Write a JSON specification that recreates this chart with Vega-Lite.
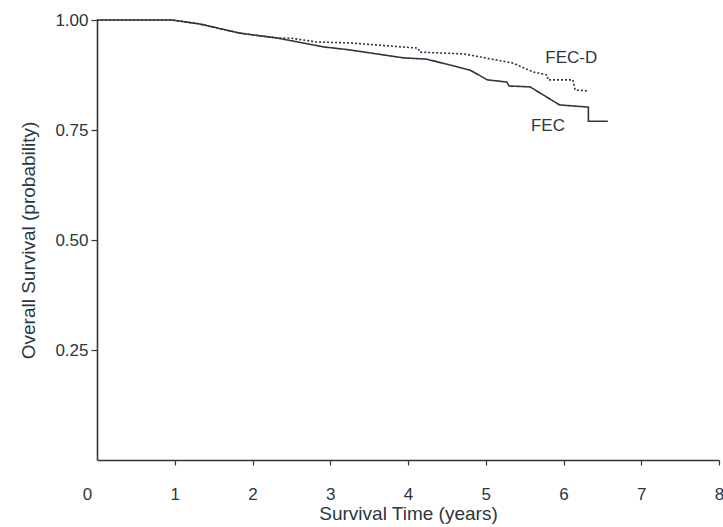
{
  "$schema": "https://vega.github.io/schema/vega-lite/v6.json",
  "autosize": {"type": "none"},
  "padding": {"left": 97, "top": 20, "right": 4, "bottom": 67},
  "width": 622,
  "height": 440,
  "background": "white",
  "config": {
    "view": {"stroke": null},
    "font": "Liberation Sans",
    "axis": {
      "domainColor": "#2b3640",
      "domainWidth": 1.6,
      "tickColor": "#2b3640",
      "tickWidth": 1.2,
      "labelColor": "#2b3640",
      "titleColor": "#2b3640",
      "labelFont": "Liberation Sans",
      "titleFont": "Liberation Sans",
      "labelFontSize": 17,
      "titleFontSize": 19,
      "titleFontWeight": "normal",
      "grid": false
    }
  },
  "datasets": {
    "curves": [
      {"arm": "FEC", "i": 0, "t": 0, "s": 1.0},
      {"arm": "FEC", "i": 1, "t": 0.965, "s": 1.0},
      {"arm": "FEC", "i": 2, "t": 1.32, "s": 0.991},
      {"arm": "FEC", "i": 3, "t": 1.84, "s": 0.970},
      {"arm": "FEC", "i": 4, "t": 2.32, "s": 0.959},
      {"arm": "FEC", "i": 5, "t": 2.91, "s": 0.939},
      {"arm": "FEC", "i": 6, "t": 3.25, "s": 0.932},
      {"arm": "FEC", "i": 7, "t": 3.94, "s": 0.914},
      {"arm": "FEC", "i": 8, "t": 4.24, "s": 0.911},
      {"arm": "FEC", "i": 9, "t": 4.80, "s": 0.886},
      {"arm": "FEC", "i": 10, "t": 5.02, "s": 0.864},
      {"arm": "FEC", "i": 11, "t": 5.27, "s": 0.859},
      {"arm": "FEC", "i": 12, "t": 5.30, "s": 0.850},
      {"arm": "FEC", "i": 13, "t": 5.57, "s": 0.848},
      {"arm": "FEC", "i": 14, "t": 5.95, "s": 0.807},
      {"arm": "FEC", "i": 15, "t": 6.32, "s": 0.802},
      {"arm": "FEC", "i": 16, "t": 6.32, "s": 0.770},
      {"arm": "FEC", "i": 17, "t": 6.57, "s": 0.770},
      {"arm": "FEC-D", "i": 0, "t": 0, "s": 1.0},
      {"arm": "FEC-D", "i": 1, "t": 0.965, "s": 1.0},
      {"arm": "FEC-D", "i": 2, "t": 1.32, "s": 0.991},
      {"arm": "FEC-D", "i": 3, "t": 1.84, "s": 0.970},
      {"arm": "FEC-D", "i": 4, "t": 2.32, "s": 0.959},
      {"arm": "FEC-D", "i": 5, "t": 2.48, "s": 0.959},
      {"arm": "FEC-D", "i": 6, "t": 2.83, "s": 0.950},
      {"arm": "FEC-D", "i": 7, "t": 3.25, "s": 0.948},
      {"arm": "FEC-D", "i": 8, "t": 4.13, "s": 0.936},
      {"arm": "FEC-D", "i": 9, "t": 4.15, "s": 0.927},
      {"arm": "FEC-D", "i": 10, "t": 4.71, "s": 0.923},
      {"arm": "FEC-D", "i": 11, "t": 4.93, "s": 0.916},
      {"arm": "FEC-D", "i": 12, "t": 5.35, "s": 0.902},
      {"arm": "FEC-D", "i": 13, "t": 5.61, "s": 0.882},
      {"arm": "FEC-D", "i": 14, "t": 5.79, "s": 0.875},
      {"arm": "FEC-D", "i": 15, "t": 5.80, "s": 0.864},
      {"arm": "FEC-D", "i": 16, "t": 6.12, "s": 0.864},
      {"arm": "FEC-D", "i": 17, "t": 6.15, "s": 0.841},
      {"arm": "FEC-D", "i": 18, "t": 6.30, "s": 0.839}
    ],
    "labels": [
      {"name": "FEC-D", "t": 6.10, "s": 0.914},
      {"name": "FEC", "t": 5.80, "s": 0.759}
    ]
  },
  "layer": [
    {
      "data": {"name": "curves"},
      "mark": {"type": "line", "strokeWidth": 1.6, "color": "#2b3640"},
      "encoding": {
        "x": {
          "field": "t", "type": "quantitative",
          "scale": {"domain": [0, 8], "nice": false, "zero": true},
          "axis": {
            "values": [0, 1, 2, 3, 4, 5, 6, 7, 8],
            "format": "d",
            "title": "Survival Time (years)",
            "tickSize": 5,
            "labelPadding": 21,
            "titlePadding": 2,
            "labelFlush": false,
            "labelOffset": {"condition": {"test": "datum.value === 0", "value": -10}, "value": 0},
            "tickOpacity": {"condition": {"test": "datum.value === 0", "value": 0}, "value": 1}
          }
        },
        "y": {
          "field": "s", "type": "quantitative",
          "scale": {"domain": [0, 1], "nice": false},
          "axis": {
            "values": [0.25, 0.5, 0.75, 1.0],
            "format": ".2f",
            "title": "Overall Survival (probability)",
            "tickSize": 6,
            "labelPadding": 3,
            "titlePadding": 16,
            "labelFlush": false
          }
        },
        "detail": {"field": "arm"},
        "order": {"field": "i", "type": "quantitative"},
        "strokeDash": {
          "field": "arm", "type": "nominal",
          "scale": {"domain": ["FEC", "FEC-D"], "range": [[1, 0], [2, 2]]},
          "legend": null
        }
      }
    },
    {
      "data": {"name": "labels"},
      "mark": {"type": "text", "fontSize": 17, "color": "#2b3640", "font": "Liberation Sans"},
      "encoding": {
        "x": {"field": "t", "type": "quantitative"},
        "y": {"field": "s", "type": "quantitative"},
        "text": {"field": "name"}
      }
    }
  ]
}
